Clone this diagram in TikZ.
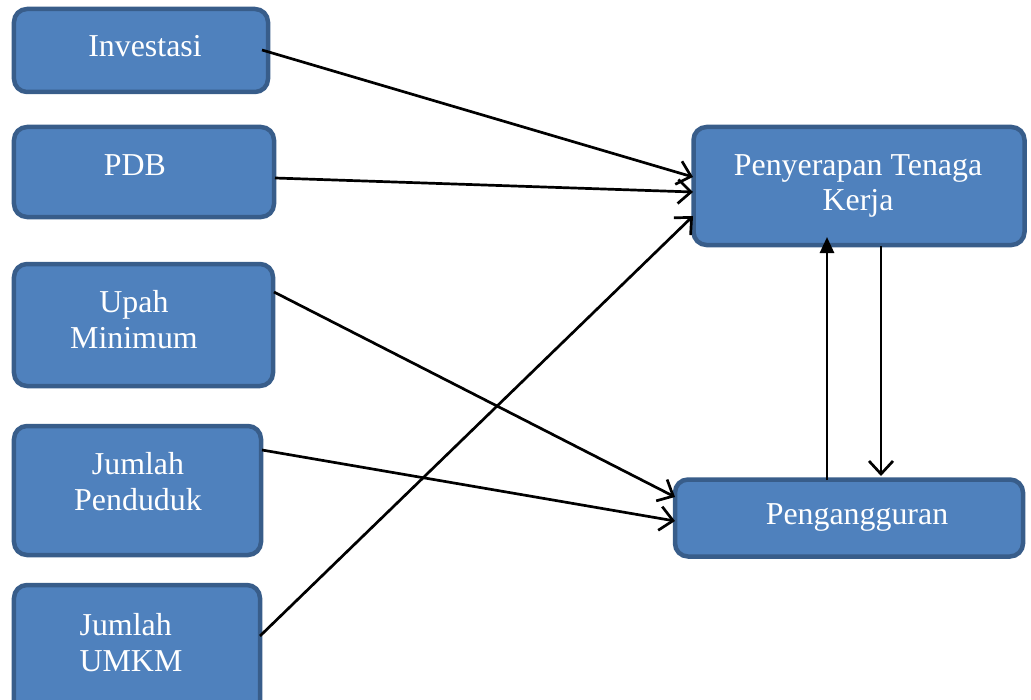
\documentclass[tikz,border=0pt]{standalone}
\usepackage{fontspec}
\setmainfont{Liberation Serif}
\usetikzlibrary{arrows.meta}
\definecolor{boxfill}{HTML}{4F81BD}
\definecolor{boxline}{HTML}{385D8A}
\tikzset{
  box/.style={draw=boxline, fill=boxfill, line width=4.5bp, rounded corners=13bp, inner sep=0pt},
  txt/.style={text=white, font=\fontsize{32}{36}\selectfont, align=center, inner sep=0pt},
  conn/.style={line width=2.7bp, -{Straight Barb[length=13bp,width=24bp,line width=2.7bp]}},
  connf/.style={line width=2.7bp, -{Triangle[length=16bp,width=14bp]}}
}
\begin{document}
\begin{tikzpicture}[x=1bp,y=-1bp]
\useasboundingbox (0,0) rectangle (1031,700);
% boxes
\node[box, minimum width=254bp, minimum height=83bp] (inv) at (141,50.5) {};
\node[box, minimum width=260bp, minimum height=90bp] (pdb) at (144,172) {};
\node[box, minimum width=259bp, minimum height=122bp] (upah) at (143.5,325) {};
\node[box, minimum width=247bp, minimum height=129bp] (pend) at (137.5,490.5) {};
\node[box, minimum width=246bp, minimum height=140bp] (umkm) at (137,655) {};
\node[box, minimum width=331bp, minimum height=118bp] (pts) at (859,186) {};
\node[box, minimum width=348bp, minimum height=77bp] (peng) at (849,518) {};
% texts
\node[txt] (tinv) at (145,46) {Investasi};
\node[txt] (tpdb) at (135,165) {PDB};
\node[txt] (tupah) at (134,320) {Upah\\Minimum};
\node[txt] (tpend) at (138,482) {Jumlah\\Penduduk};
\node[txt, align=left] (tumkm) at (131,643) {Jumlah\\UMKM};
\node[txt] (tpts) at (858,186) {Penyerapan Tenaga\\Kerja};
\node[txt] (tpeng) at (857,517) {Pengangguran};
% connector endpoints
\coordinate (a1) at (262,50);
\coordinate (a2) at (275,178);
\coordinate (a3) at (274,292);
\coordinate (a4) at (262,450);
\coordinate (a5) at (260,636);
\coordinate (b1) at (693,177);
\coordinate (b2) at (693,192);
\coordinate (b5) at (693,216);
\coordinate (c3) at (675,497);
\coordinate (c4) at (675,521);
\coordinate (u1) at (827,480);
\coordinate (u2) at (827,237);
\coordinate (d1) at (881,246);
\coordinate (d2) at (881,476);
\draw[conn] (a1) -- (b1);
\draw[conn] (a2) -- (b2);
\draw[conn] (a5) -- (b5);
\draw[conn] (a3) -- (c3);
\draw[conn] (a4) -- (c4);
\draw[connf] (u1) -- (u2);
\draw[conn] (d1) -- (d2);
\end{tikzpicture}
\end{document}
